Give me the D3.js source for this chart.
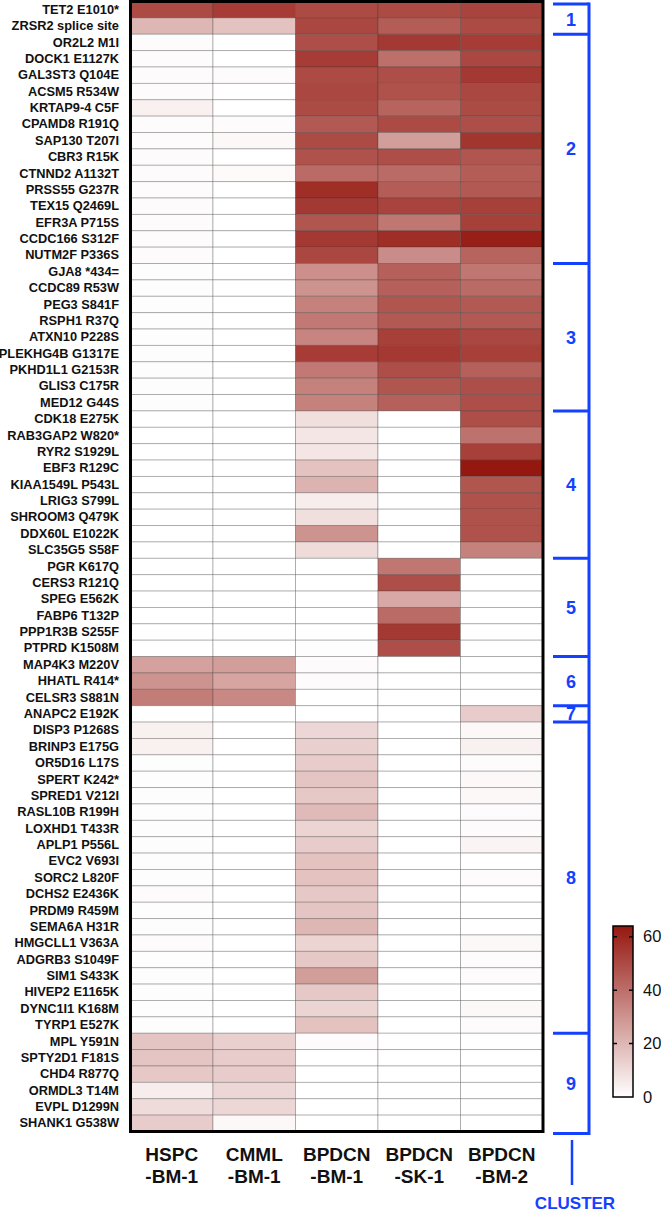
<!DOCTYPE html>
<html>
<head>
<meta charset="utf-8">
<script src="https://cdn.jsdelivr.net/npm/d3@7"></script>
<style>
  html, body { margin: 0; padding: 0; background: #fff; }
  svg { display: block; font-family: "Liberation Sans", Arial, sans-serif; }
</style>
</head>
<body>
<div id="chart"></div>
<script>
// row labels (top to bottom)
const genes = [
  'TET2 E1010*', 'ZRSR2 splice site', 'OR2L2 M1I', 'DOCK1 E1127K', 'GAL3ST3 Q104E',
  'ACSM5 R534W', 'KRTAP9-4 C5F', 'CPAMD8 R191Q', 'SAP130 T207I', 'CBR3 R15K',
  'CTNND2 A1132T', 'PRSS55 G237R', 'TEX15 Q2469L', 'EFR3A P715S', 'CCDC166 S312F',
  'NUTM2F P336S', 'GJA8 *434=', 'CCDC89 R53W', 'PEG3 S841F', 'RSPH1 R37Q',
  'ATXN10 P228S', 'PLEKHG4B G1317E', 'PKHD1L1 G2153R', 'GLIS3 C175R', 'MED12 G44S',
  'CDK18 E275K', 'RAB3GAP2 W820*', 'RYR2 S1929L', 'EBF3 R129C', 'KIAA1549L P543L',
  'LRIG3 S799L', 'SHROOM3 Q479K', 'DDX60L E1022K', 'SLC35G5 S58F', 'PGR K617Q',
  'CERS3 R121Q', 'SPEG E562K', 'FABP6 T132P', 'PPP1R3B S255F', 'PTPRD K1508M',
  'MAP4K3 M220V', 'HHATL R414*', 'CELSR3 S881N', 'ANAPC2 E192K', 'DISP3 P1268S',
  'BRINP3 E175G', 'OR5D16 L17S', 'SPERT K242*', 'SPRED1 V212I', 'RASL10B R199H',
  'LOXHD1 T433R', 'APLP1 P556L', 'EVC2 V693I', 'SORC2 L820F', 'DCHS2 E2436K',
  'PRDM9 R459M', 'SEMA6A H31R', 'HMGCLL1 V363A', 'ADGRB3 S1049F', 'SIM1 S433K',
  'HIVEP2 E1165K', 'DYNC1I1 K168M', 'TYRP1 E527K', 'MPL Y591N', 'SPTY2D1 F181S',
  'CHD4 R877Q', 'ORMDL3 T14M', 'EVPL D1299N', 'SHANK1 G538W'
];

// column labels
const samples = ['HSPC-BM-1', 'CMML-BM-1', 'BPDCN-BM-1', 'BPDCN-SK-1', 'BPDCN-BM-2'];

// values per sample, same order as genes
const hspcBM1 = [
  50, 20, 1, 1, 1, 1, 4, 1, 1, 1,
  1, 1, 1, 1, 1, 1, 0.5, 0.5, 0.5, 0.5,
  0.5, 0.5, 0.5, 0.5, 0.5, 0, 0, 0, 0, 0,
  0, 0, 0, 0, 0, 0, 0, 0, 0, 0,
  26, 30, 36, 0, 4, 4, 0.5, 0.5, 0.5, 0.5,
  0.5, 0.5, 0.5, 0.5, 1, 0.5, 0.5, 1, 0.5, 0.5,
  0.5, 0.5, 0.5, 16, 16, 15, 5, 10, 14
];
const cmmlBM1 = [
  54, 17, 0, 0, 1, 0, 0, 1, 2, 0,
  1.5, 0, 0, 0, 0, 0, 0, 0, 0, 0,
  0, 0, 0, 0, 0, 0, 0, 0, 0, 0,
  0, 0, 0, 0, 0, 0, 0, 0, 0, 0,
  27, 25, 33, 0, 0, 0, 0, 0, 0, 0,
  0, 0, 0, 0, 0, 0, 0, 0, 0, 0,
  0, 0, 0, 13, 14, 14, 11, 11, 2
];
const bpdcnBM1 = [
  50, 51, 49, 54, 50, 51, 50, 46, 50, 48,
  41, 58, 55, 47, 55, 51, 31, 30, 35, 37,
  34, 54, 37, 35, 35, 9, 7, 7, 17, 21,
  5, 9, 30, 10, 0, 0, 0, 0, 0, 0.5,
  1, 1, 0, 0, 11, 13, 14, 16, 15, 19,
  12, 14, 17, 17, 15, 16, 20, 12, 15, 27,
  15, 12, 17, 1, 0, 0, 0, 0, 0
];
const bpdcnSK1 = [
  50, 45, 55, 40, 49, 48, 43, 50, 27, 49,
  41, 45, 52, 38, 58, 32, 44, 44, 47, 46,
  53, 55, 49, 47, 44, 0, 0, 0, 0, 0,
  0, 0, 0, 0, 38, 49, 24, 41, 55, 49,
  0, 0, 0, 0, 0, 0, 0, 0, 0, 0,
  0, 0, 0, 0, 0, 0, 0, 0, 0, 0,
  0, 0, 0, 0, 0, 0, 0, 0, 0
];
const bpdcnBM2 = [
  52, 50, 54, 51, 55, 51, 50, 49, 56, 47,
  45, 46, 53, 53, 62, 43, 38, 41, 46, 46,
  51, 53, 44, 49, 49, 49, 39, 53, 64, 47,
  48, 48, 48, 35, 0, 0, 0, 0, 0, 0,
  0, 0, 0, 14, 2, 4, 1, 2, 2, 1,
  1, 3, 0, 1, 0, 0, 0, 2, 1, 1,
  0, 2, 1, 0, 0, 0, 0, 0, 0
];

// clusters, in row order
const clusterNames = ['1', '2', '3', '4', '5', '6', '7', '8', '9'];
const clusterSizes = [2, 14, 9, 9, 6, 3, 1, 19, 6];

// legend
const legendMax = 64;
const legendTicks = [0, 20, 40, 60];

// building cell table
const series = [hspcBM1, cmmlBM1, bpdcnBM1, bpdcnSK1, bpdcnBM2];
const cells = [];
samples.forEach((s, j) => {
  genes.forEach((g, i) => cells.push({sample: s, gene: g, value: series[j][i]}));
});

// layout
const W = 661, H = 1212;
const box = {l: 130.5, r: 543, t: 1.5, b: 1131.5};
const blue = '#1440ff';

const svg = d3.select('#chart').append('svg')
  .attr('width', W)
  .attr('height', H);

const x = d3.scaleBand().domain(samples).range([box.l, box.r]);
const y = d3.scaleBand().domain(genes).range([box.t, box.b]);

const color = d3.scaleLinear()
  .domain([0, legendMax])
  .range(['#ffffff', '#951810'])
  .clamp(true);

// cells
svg.append('g').selectAll('rect')
  .data(cells)
  .join('rect')
  .attr('x', d => x(d.sample))
  .attr('y', d => y(d.gene))
  .attr('width', x.bandwidth())
  .attr('height', y.bandwidth())
  .attr('fill', d => color(d.value))
  .attr('stroke', 'rgba(50,50,50,0.32)')
  .attr('stroke-width', 0.9);

// frame
svg.append('rect')
  .attr('x', box.l).attr('y', box.t)
  .attr('width', box.r - box.l).attr('height', box.b - box.t)
  .attr('fill', 'none')
  .attr('stroke', '#000')
  .attr('stroke-width', 3);

// row labels
const yAxis = svg.append('g')
  .attr('transform', `translate(${box.l - 1.5},0)`)
  .call(d3.axisLeft(y).tickSize(0).tickPadding(10));
yAxis.select('.domain').remove();
yAxis.selectAll('text')
  .attr('font-family', '"Liberation Sans", Arial, sans-serif')
  .attr('font-size', 12.8)
  .attr('font-weight', 'bold')
  .attr('fill', '#111');

// column labels, two lines each
const colLab = svg.append('g').selectAll('text')
  .data(samples)
  .join('text')
  .attr('text-anchor', 'middle')
  .attr('font-size', 19)
  .attr('font-weight', 'bold')
  .attr('fill', '#111');
colLab.append('tspan')
  .attr('x', d => x(d) + x.bandwidth() / 2)
  .attr('y', 1161)
  .text(d => d.slice(0, d.indexOf('-')));
colLab.append('tspan')
  .attr('x', d => x(d) + x.bandwidth() / 2)
  .attr('y', 1183)
  .text(d => d.slice(d.indexOf('-')));

// cluster brackets
const starts = d3.cumsum([0].concat(clusterSizes));
const bracket = svg.append('g')
  .attr('stroke', blue)
  .attr('stroke-width', 3)
  .attr('fill', 'none');
const edgeY = k => {
  if (k === 0) return box.t + 2.5;
  if (k === genes.length) return box.b + 2;
  return y(genes[k]);
};
const bx0 = 553, bx1 = 589;
bracket.append('line')
  .attr('x1', bx1).attr('x2', bx1)
  .attr('y1', edgeY(0) - 1.5).attr('y2', edgeY(genes.length) + 1.5);
bracket.selectAll('line.tick')
  .data(Array.from(starts))
  .join('line')
  .attr('class', 'tick')
  .attr('x1', bx0).attr('x2', bx1)
  .attr('y1', k => edgeY(k)).attr('y2', k => edgeY(k));

svg.append('g').selectAll('text')
  .data(clusterNames)
  .join('text')
  .attr('x', 571)
  .attr('y', (d, i) => (edgeY(starts[i]) + edgeY(starts[i + 1])) / 2)
  .attr('dy', '0.36em')
  .attr('text-anchor', 'middle')
  .attr('font-size', 18)
  .attr('font-weight', 'bold')
  .attr('fill', blue)
  .text(d => d);

svg.append('line')
  .attr('x1', 572).attr('x2', 572)
  .attr('y1', 1140).attr('y2', 1185)
  .attr('stroke', blue)
  .attr('stroke-width', 2.5);
svg.append('text')
  .attr('x', 575).attr('y', 1209)
  .attr('text-anchor', 'middle')
  .attr('font-size', 17)
  .attr('font-weight', 'bold')
  .attr('fill', blue)
  .text('CLUSTER');

// colour legend
const lg = {x: 613, w: 20, top: 926, bottom: 1097};
const ly = d3.scaleLinear().domain([0, legendMax]).range([lg.bottom, lg.top]);
const grad = svg.append('defs').append('linearGradient')
  .attr('id', 'lgrad')
  .attr('x1', 0).attr('y1', 1).attr('x2', 0).attr('y2', 0);
d3.range(0, 1.01, 0.1).forEach(t => {
  grad.append('stop')
    .attr('offset', t)
    .attr('stop-color', color(t * legendMax));
});
svg.append('rect')
  .attr('x', lg.x).attr('y', lg.top)
  .attr('width', lg.w).attr('height', lg.bottom - lg.top)
  .attr('fill', 'url(#lgrad)')
  .attr('stroke', '#000')
  .attr('stroke-width', 1.5);
svg.append('g').selectAll('path')
  .data(legendTicks.filter(v => v > 0))
  .join('path')
  .attr('d', v => `M${lg.x},${ly(v)}h4M${lg.x + lg.w - 4},${ly(v)}h4`)
  .attr('stroke', '#000')
  .attr('stroke-width', 1.5);
const lAxis = svg.append('g')
  .attr('transform', `translate(${lg.x + lg.w},0)`)
  .call(d3.axisRight(ly).tickValues(legendTicks).tickSize(0).tickPadding(10));
lAxis.select('.domain').remove();
lAxis.selectAll('text')
  .attr('font-family', '"Liberation Sans", Arial, sans-serif')
  .attr('font-size', 16.5)
  .attr('fill', '#111');
</script>
</body>
</html>
